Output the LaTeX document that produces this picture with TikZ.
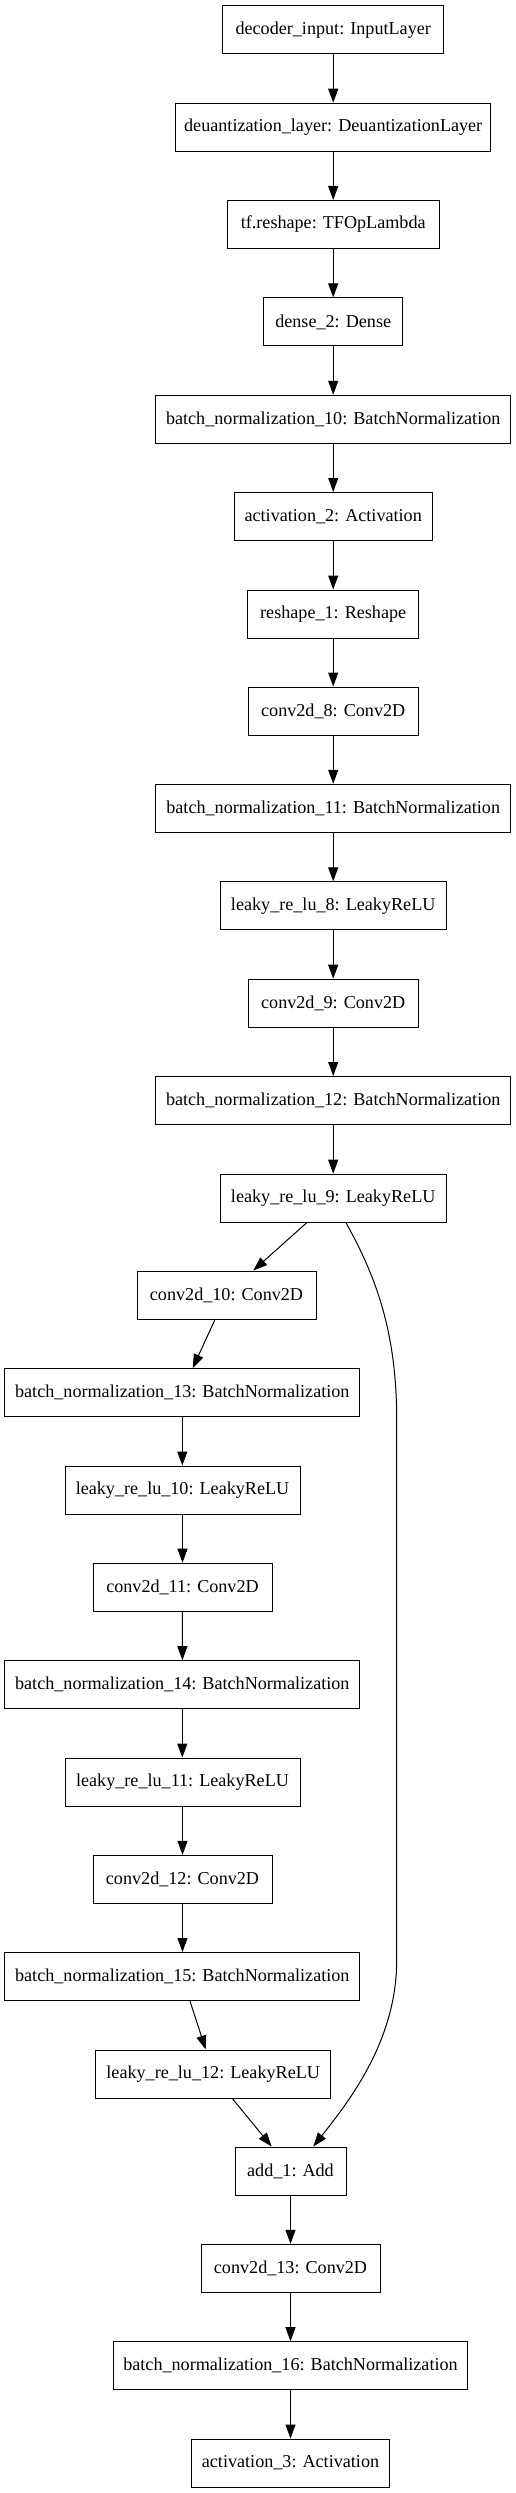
\documentclass[tikz,border=0pt]{standalone}
\usepackage{fontspec}
\setmainfont{Liberation Serif}
\usetikzlibrary{arrows.meta,calc}
\begin{document}
\begin{tikzpicture}[x=0.75pt,y=-0.75pt,
 box/.style={draw=black,line width=0.75pt,inner sep=0pt,minimum height=36pt,font=\fontsize{13.6}{16}\selectfont},
 bw/.style={minimum width=#1*0.75pt},
 conn/.style={line width=0.75pt,-{Triangle[length=10.5pt,width=7.5pt]}}]
\useasboundingbox (0,0) rectangle (516,2493);
\node[box,bw=220.6] (inp) at (333.2,29.9) {decoder\_input: InputLayer};
\node[box,bw=315.3] (deq) at (333.2,127.2) {deuantization\_layer: DeuantizationLayer};
\node[box,bw=212.3] (tfr) at (333.2,224.5) {tf.reshape: TFOpLambda};
\node[box,bw=139] (dense) at (333.2,321.9) {dense\_2: Dense};
\node[box,bw=355] (bn10) at (333.2,419.3) {batch\_normalization\_10: BatchNormalization};
\node[box,bw=198] (act2) at (333.2,516.5) {activation\_2: Activation};
\node[box,bw=171.4] (resh) at (333.2,614) {reshape\_1: Reshape};
\node[box,bw=169.7] (c8) at (333.2,711) {conv2d\_8: Conv2D};
\node[box,bw=355] (bn11) at (333.2,808.3) {batch\_normalization\_11: BatchNormalization};
\node[box,bw=225.7] (lk8) at (333.2,905.9) {leaky\_re\_lu\_8: LeakyReLU};
\node[box,bw=169.7] (c9) at (333.2,1003.2) {conv2d\_9: Conv2D};
\node[box,bw=355] (bn12) at (333.2,1100.5) {batch\_normalization\_12: BatchNormalization};
\node[box,bw=225.7] (lk9) at (333.2,1198.2) {leaky\_re\_lu\_9: LeakyReLU};
\node[box,bw=179] (c10) at (226.5,1295) {conv2d\_10: Conv2D};
\node[box,bw=355.3] (bn13) at (182.3,1392.7) {batch\_normalization\_13: BatchNormalization};
\node[box,bw=235] (lk10) at (182.5,1490) {leaky\_re\_lu\_10: LeakyReLU};
\node[box,bw=179] (c11) at (182.5,1587.2) {conv2d\_11: Conv2D};
\node[box,bw=355.3] (bn14) at (182.3,1684.7) {batch\_normalization\_14: BatchNormalization};
\node[box,bw=235] (lk11) at (182.5,1782) {leaky\_re\_lu\_11: LeakyReLU};
\node[box,bw=179] (c12) at (182.5,1879.3) {conv2d\_12: Conv2D};
\node[box,bw=355.3] (bn15) at (182.3,1976.5) {batch\_normalization\_15: BatchNormalization};
\node[box,bw=235] (lk12) at (213.2,2074) {leaky\_re\_lu\_12: LeakyReLU};
\node[box,bw=111] (add) at (290.5,2171) {add\_1: Add};
\node[box,bw=179] (c13) at (290.5,2268.3) {conv2d\_13: Conv2D};
\node[box,bw=354.7] (bn16) at (290.5,2365.7) {batch\_normalization\_16: BatchNormalization};
\node[box,bw=197.3] (act3) at (290.5,2463) {activation\_3: Activation};
\draw[conn] (inp) -- (deq);
\draw[conn] (deq) -- (tfr);
\draw[conn] (tfr) -- (dense);
\draw[conn] (dense) -- (bn10);
\draw[conn] (bn10) -- (act2);
\draw[conn] (act2) -- (resh);
\draw[conn] (resh) -- (c8);
\draw[conn] (c8) -- (bn11);
\draw[conn] (bn11) -- (lk8);
\draw[conn] (lk8) -- (c9);
\draw[conn] (c9) -- (bn12);
\draw[conn] (bn12) -- (lk9);
\draw[conn] ($(lk9.south)+(-26.5,0)$) -- ($(c10.north)+(26.8,0)$);
\draw[conn] ($(c10.south)+(-11.5,0)$) -- ($(bn13.north)+(10.4,0)$);
\draw[conn] (bn13.south) -- (lk10.north -| bn13.south);
\draw[conn] (lk10) -- (c11);
\draw[conn] (c11) -- (bn14);
\draw[conn] (bn14.south) -- (lk11.north -| bn14.south);
\draw[conn] (lk11) -- (c12);
\draw[conn] (c12.south) -- (bn15.north -| c12.south);
\draw[conn] ($(bn15.south)+(7.7,0)$) -- ($(lk12.north)+(-7.5,0)$);
\draw[conn] ($(lk12.south)+(19.1,0)$) -- ($(add.north)+(-18.8,0)$);
\draw[conn] ($(lk9.south)+(12.8,0)$) .. controls (375,1275) and (396.7,1330) .. (396.7,1420)
  -- (396.7,1960) .. controls (396.7,2040) and (350,2100) .. ($(add.north)+(22.8,0)$);
\draw[conn] (add) -- (c13);
\draw[conn] (c13) -- (bn16);
\draw[conn] (bn16) -- (act3);
\end{tikzpicture}
\end{document}
